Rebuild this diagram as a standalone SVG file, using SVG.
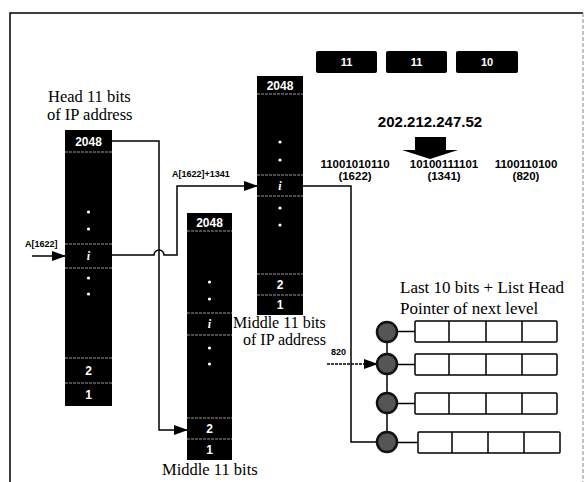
<svg xmlns="http://www.w3.org/2000/svg" width="585" height="482" viewBox="0 0 585 482">
<style>
.col{fill:#000}
.sep{stroke:#9a9a9a;stroke-width:1;stroke-dasharray:3 1}
.wt{fill:#fff;font-family:"Liberation Sans",Arial,sans-serif;font-weight:bold;font-size:12px;text-anchor:middle}
.wi{fill:#fff;font-family:"Liberation Serif",serif;font-style:italic;font-weight:bold;font-size:12px;text-anchor:middle}
.dot{fill:#fff}
.serif{fill:#000;font-family:"Liberation Serif","Times New Roman",serif;font-size:16.5px}
.sm{fill:#000;font-family:"Liberation Sans",Arial,sans-serif;font-weight:bold;font-size:9px}
.bin{fill:#000;font-family:"Liberation Sans",Arial,sans-serif;font-weight:bold;font-size:11.5px;text-anchor:middle}
.line{fill:none;stroke:#000;stroke-width:1.5}
.cell{fill:#fff;stroke:#000;stroke-width:1.5}
.node{fill:#555;stroke:#111;stroke-width:2.5}
</style>
<defs>
<marker id="ah" markerUnits="userSpaceOnUse" markerWidth="14" markerHeight="10" refX="13" refY="5" orient="auto">
<path d="M0,0 L14,5 L0,10 Z" fill="#000"/>
</marker>
</defs>
<rect width="585" height="482" fill="#fff"/>
<g id="border">
<path d="M10,482 V13 H583" fill="none" stroke="#000" stroke-width="1.5"/>
<path d="M583,13 V482" fill="none" stroke="#888" stroke-width="1" stroke-dasharray="4 2"/>
</g>

<g id="head-label">
<text class="serif" x="48" y="102">Head 11 bits</text>
<text class="serif" x="47" y="120">of IP address</text>
</g>

<g id="col-head">
<rect class="col" x="65" y="130" width="47" height="276"/>
<line class="sep" x1="65" y1="152" x2="112" y2="152"/>
<line class="sep" x1="65" y1="244" x2="112" y2="244"/>
<line class="sep" x1="65" y1="268" x2="112" y2="268"/>
<line class="sep" x1="65" y1="358" x2="112" y2="358"/>
<line class="sep" x1="65" y1="383" x2="112" y2="383"/>
<text class="wt" x="88.5" y="146">2048</text>
<circle class="dot" cx="88.5" cy="212" r="1.6"/>
<circle class="dot" cx="88.5" cy="229" r="1.6"/>
<text class="wi" x="88.5" y="260">i</text>
<circle class="dot" cx="88.5" cy="278" r="1.6"/>
<circle class="dot" cx="88.5" cy="294" r="1.6"/>
<text class="wt" x="88.5" y="375">2</text>
<text class="wt" x="88.5" y="399">1</text>
</g>

<g id="col-mid2">
<rect class="col" x="187" y="213" width="45" height="247"/>
<line class="sep" x1="187" y1="231" x2="232" y2="231"/>
<line class="sep" x1="187" y1="313" x2="232" y2="313"/>
<line class="sep" x1="187" y1="335" x2="232" y2="335"/>
<line class="sep" x1="187" y1="418" x2="232" y2="418"/>
<line class="sep" x1="187" y1="439" x2="232" y2="439"/>
<text class="wt" x="209.5" y="227">2048</text>
<circle class="dot" cx="209.5" cy="282" r="1.6"/>
<circle class="dot" cx="209.5" cy="299" r="1.6"/>
<text class="wi" x="209.5" y="328">i</text>
<circle class="dot" cx="209.5" cy="348" r="1.6"/>
<circle class="dot" cx="209.5" cy="364" r="1.6"/>
<text class="wt" x="209.5" y="433">2</text>
<text class="wt" x="209.5" y="454">1</text>
<text class="serif" x="162" y="475">Middle 11 bits</text>
</g>

<g id="col-mid1">
<rect class="col" x="257" y="76" width="46" height="239"/>
<line class="sep" x1="257" y1="94" x2="303" y2="94"/>
<line class="sep" x1="257" y1="175" x2="303" y2="175"/>
<line class="sep" x1="257" y1="196" x2="303" y2="196"/>
<line class="sep" x1="257" y1="274" x2="303" y2="274"/>
<line class="sep" x1="257" y1="295" x2="303" y2="295"/>
<text class="wt" x="280" y="90">2048</text>
<circle class="dot" cx="280" cy="142" r="1.6"/>
<circle class="dot" cx="280" cy="160" r="1.6"/>
<text class="wi" x="280" y="190">i</text>
<circle class="dot" cx="280" cy="208" r="1.6"/>
<circle class="dot" cx="280" cy="225" r="1.6"/>
<text class="wt" x="280" y="289">2</text>
<text class="wt" x="280" y="309">1</text>
<text class="serif" x="233" y="328" style="font-size:16px">Middle 11 bits</text>
<text class="serif" x="243" y="345" style="font-size:16px">of IP address</text>
</g>

<g id="bit-boxes">
<rect x="316" y="51" width="61" height="22" rx="2" fill="#000"/>
<rect x="386" y="51" width="61" height="22" rx="2" fill="#000"/>
<rect x="456" y="51" width="62" height="22" rx="2" fill="#000"/>
<text class="wt" x="346.5" y="66" style="font-size:11px">11</text>
<text class="wt" x="416.5" y="66" style="font-size:11px">11</text>
<text class="wt" x="487" y="66" style="font-size:11px">10</text>
</g>

<g id="ip">
<text x="430" y="127" text-anchor="middle" style="font-family:'Liberation Sans',Arial,sans-serif;font-weight:bold;font-size:15px">202.212.247.52</text>
<path d="M415,137 H446 V150 H458 L430,159 L402,150 H415 Z" fill="#000"/>
<text class="bin" x="355" y="168">11001010110</text>
<text class="bin" x="355" y="180">(1622)</text>
<text class="bin" x="444" y="168">10100111101</text>
<text class="bin" x="444" y="180">(1341)</text>
<text class="bin" x="526" y="168">1100110100</text>
<text class="bin" x="526" y="180">(820)</text>
</g>

<g id="list-label">
<text class="serif" x="400" y="293" style="font-size:17px">Last 10 bits + List Head</text>
<text class="serif" x="400" y="314" style="font-size:17px">Pointer of next level</text>
</g>

<g id="connectors">
<path class="line" d="M32,256 H65" marker-end="url(#ah)"/>
<path class="line" d="M112,141 H159 V430 H187" marker-end="url(#ah)"/>
<path class="line" d="M112,255 H154 A5,5 0 0 1 164,255 H177 V186 H257" marker-end="url(#ah)"/>
<path class="line" d="M303,186 H351 V442 H377"/>
<path class="line" d="M327,364 H377" stroke-dasharray="3 1" marker-end="url(#ah)"/>
<line class="line" x1="387" y1="332" x2="387" y2="442"/>
<line class="line" x1="397" y1="331.5" x2="415" y2="331.5"/>
<line class="line" x1="397" y1="364.5" x2="415" y2="364.5"/>
<line class="line" x1="397" y1="403.5" x2="415" y2="403.5"/>
<line class="line" x1="397" y1="442.5" x2="418" y2="442.5"/>
<text class="sm" x="25" y="247">A[1622]</text>
<text class="sm" x="172" y="177">A[1622]+1341</text>
<text class="sm" x="331" y="355">820</text>
</g>

<g id="node1">
<circle class="node" cx="387" cy="332" r="10"/>
<rect class="cell" x="415" y="321" width="142" height="21" rx="1"/>
<path class="line" d="M449,321 V342 M486,321 V342 M522,321 V342"/>
</g>
<g id="node2">
<circle class="node" cx="387" cy="364" r="10"/>
<rect class="cell" x="415" y="354" width="142" height="21" rx="1"/>
<path class="line" d="M449,354 V375 M486,354 V375 M522,354 V375"/>
</g>
<g id="node3">
<circle class="node" cx="387" cy="403" r="10"/>
<rect class="cell" x="415" y="393" width="142" height="21" rx="1"/>
<path class="line" d="M449,393 V414 M486,393 V414 M522,393 V414"/>
</g>
<g id="node4">
<circle class="node" cx="387" cy="442" r="10"/>
<rect class="cell" x="418" y="432" width="142" height="21" rx="1"/>
<path class="line" d="M452,432 V453 M488,432 V453 M524,432 V453"/>
</g>
</svg>
